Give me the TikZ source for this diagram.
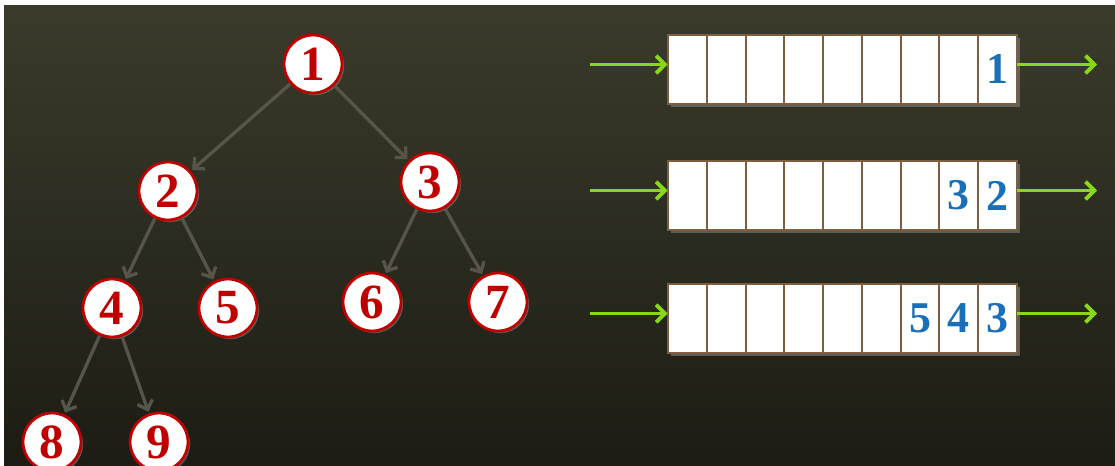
\documentclass[tikz,border=0pt]{standalone}
\usepackage{fontspec}
\setmainfont{Liberation Serif}
\usepackage{xcolor}
\usetikzlibrary{positioning, arrows.meta, shadows}

\definecolor{board}{HTML}{3A3B2B}
\definecolor{boardmid}{HTML}{34352A}
\definecolor{boarddark}{HTML}{1C1C14}
\definecolor{ringred}{HTML}{C00000}
\definecolor{edgegray}{HTML}{59544A}
\definecolor{feedgreen}{HTML}{8AD61A}
\definecolor{cellbrown}{HTML}{7D5E40}
\definecolor{valblue}{HTML}{1A70B8}

\begin{document}
\begin{tikzpicture}[x=0.02cm, y=-0.02cm,
    vertex/.style={circle, draw=ringred, line width=1.6pt, fill=white, minimum size=1.16cm, inner sep=0pt,
        text=ringred, font=\fontsize{28}{28}\selectfont\bfseries,
        drop shadow={shadow xshift=1.2pt, shadow yshift=-1.2pt, opacity=0.6}},
    link/.style={draw=edgegray, line width=1.9pt, -{Straight Barb[length=4.5pt, width=9pt]}, shorten >=1pt},
    queuebox/.style={rectangle, fill=white, minimum width=6.98cm, minimum height=1.38cm, inner sep=0pt,
        drop shadow={shadow xshift=1.5pt, shadow yshift=-1.5pt, opacity=0.6}},
    cell/.style={rectangle, draw=cellbrown, line width=1.1pt, fill=white, minimum width=0.775cm,
        minimum height=1.38cm, inner sep=0pt, text=valblue, font=\fontsize{25}{25}\selectfont\bfseries},
    feed/.style={draw=feedgreen, line width=2.2pt, -{Straight Barb[length=5pt, width=10pt]}}]

    % board
    \clip (0,0) rectangle (1115,466);
    \fill[white] (0,0) rectangle (1115,466);
    \shade[top color=board, middle color=boardmid, bottom color=boarddark] (4,6) rectangle (1115,466);

    % tree
    \node[vertex] (1) at (313, 64) {1};
    \node[vertex] (2) at (168, 191) {2};
    \node[vertex] (3) at (430, 182) {3};
    \node[vertex] (4) at (112, 308) {4};
    \node[vertex] (5) at (228, 308) {5};
    \node[vertex] (6) at (372, 302) {6};
    \node[vertex] (7) at (498, 302) {7};
    \node[vertex] (8) at (52, 442) {8};
    \node[vertex] (9) at (159, 442) {9};

    \draw[link] (1) -- (2);
    \draw[link] (1) -- (3);
    \draw[link] (2) -- (4);
    \draw[link] (2) -- (5);
    \draw[link] (3) -- (6);
    \draw[link] (3) -- (7);
    \draw[link] (4) -- (8);
    \draw[link] (4) -- (9);

    % queues, one row per level
    \foreach \row/\y/\vals in {1/69.5/{,,,,,,,,1}, 2/195.5/{,,,,,,,3,2}, 3/318.5/{,,,,,,5,4,3}} {
        \node[queuebox] (q\row) at (842.5, \y) {};
        \foreach \v [count=\i] in \vals
            \node[cell] (q\row c\i) at (668 + 38.78*\i - 19.39, \y) {\v};
        \coordinate (in\row) at (590, \y - 5);
        \coordinate (out\row) at (1097, \y - 5);
        \draw[feed] (in\row) -- (in\row -| q\row.west);
        \draw[feed] (out\row -| q\row.east) -- (out\row);
    }
\end{tikzpicture}
\end{document}
